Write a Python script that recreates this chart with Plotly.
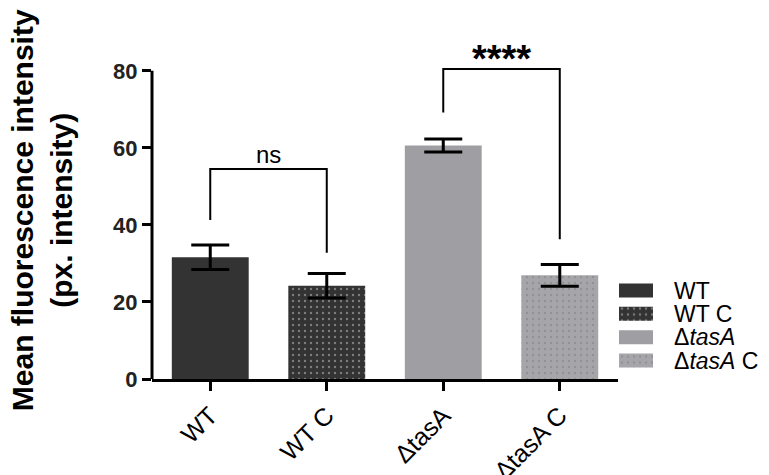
import plotly.graph_objects as go

# ---- data ----
categories = ["WT", "WT C", "ΔtasA", "ΔtasA C"]
legend_labels = ["WT", "WT C", "Δ<i>tasA</i>", "Δ<i>tasA</i> C"]
means = [31.6, 24.2, 60.6, 26.9]
sem = [3.2, 3.2, 1.7, 2.8]
bar_colors = ["#333333", "#333333", "#9f9fa3", "#a6a6aa"]
dot_colors = [None, "#c8c8c8", None, "#7c7c80"]

# significance brackets: (left idx, right idx, bracket height, left leg end, right leg end, label)
brackets = [
    (0, 1, 54.5, 41.3, 32.8, "ns"),
    (2, 3, 80.5, 69.2, 36.3, "****"),
]

y_ticks = [0, 20, 40, 60, 80]
y_title = "Mean fluorescence intensity<br>(px. intensity)"

FONT = "Liberation Sans, Arial, sans-serif"

fig = go.Figure()

def marker_for(i):
    m = dict(color=bar_colors[i], line=dict(width=0))
    if dot_colors[i]:
        m["pattern"] = dict(shape=".", fgcolor=dot_colors[i], bgcolor=bar_colors[i],
                            size=6, solidity=0.12, fillmode="overlay")
    return m

# main bars
for i, cat in enumerate(categories):
    fig.add_trace(go.Bar(
        x=[cat], y=[means[i]], width=0.66,
        marker=marker_for(i),
        error_y=dict(type="data", array=[sem[i]], color="black", thickness=3, width=19),
        showlegend=False, xaxis="x", yaxis="y",
    ))

# brackets
for a, b, top, la, lb, label in brackets:
    fig.add_trace(go.Scatter(
        x=[categories[a], categories[a], categories[b], categories[b]],
        y=[la, top, top, lb], mode="lines",
        line=dict(color="black", width=2), showlegend=False, hoverinfo="skip",
        xaxis="x", yaxis="y",
    ))

# custom legend swatches (on a secondary hidden axis pair)
for i, lab in enumerate(legend_labels):
    fig.add_trace(go.Bar(
        x=[1], y=[lab], orientation="h", width=0.6,
        marker=marker_for(i), showlegend=False, hoverinfo="skip",
        xaxis="x2", yaxis="y2",
    ))

annotations = []
for a, b, top, la, lb, label in brackets:
    if label == "ns":
        annotations.append(dict(x=(a + b) / 2, y=top, xref="x", yref="y", text=label,
                                showarrow=False, yanchor="bottom", yshift=-1,
                                font=dict(family=FONT, size=24, color="black")))
    else:
        annotations.append(dict(x=(a + b) / 2, y=top, xref="x", yref="y", text=label,
                                showarrow=False, yanchor="bottom", yshift=-13,
                                font=dict(family=FONT, size=38, color="black", weight="bold")))

for lab in legend_labels:
    annotations.append(dict(x=0.8428, y=lab, xref="paper", yref="y2", text=lab,
                            showarrow=False, xanchor="left", yanchor="middle",
                            font=dict(family=FONT, size=23, color="black")))

annotations.append(dict(x=-0.178, y=0.4985, xref="paper", yref="paper", text=y_title,
                        showarrow=False, textangle=-90, xanchor="center", yanchor="middle",
                        font=dict(family=FONT, size=30, color="black", weight="bold")))

fig.update_layout(
    width=769, height=475,
    margin=dict(l=152, r=0, t=40, b=96),
    paper_bgcolor="white", plot_bgcolor="white",
    bargap=0.34,
    font=dict(family=FONT, color="black"),
    xaxis=dict(domain=[0, 0.7553], type="category", categoryorder="array",
               categoryarray=categories, range=[-0.5, 3.5], automargin=False,
               showline=True, linecolor="black", linewidth=3,
               ticks="outside", ticklen=9, tickwidth=3, tickcolor="black",
               tickangle=-45, tickfont=dict(family=FONT, size=25, color="black"),
               showgrid=False, zeroline=False, fixedrange=True),
    yaxis=dict(range=[0, 88], tickvals=y_ticks, ticktext=[str(t) for t in y_ticks],
               automargin=False,
               showline=False, ticks="outside", ticklen=9, tickwidth=3, tickcolor="black",
               tickfont=dict(family=FONT, size=22, color="#222222", weight="bold"),
               showgrid=False, zeroline=False, fixedrange=True),
    xaxis2=dict(domain=[0.7569, 0.812], range=[0, 1], anchor="y2", visible=False,
                fixedrange=True),
    yaxis2=dict(domain=[0.0103, 0.3053], type="category", categoryorder="array",
                categoryarray=legend_labels, autorange="reversed", anchor="x2",
                visible=False, fixedrange=True),
    shapes=[dict(type="line", xref="paper", yref="y", x0=0, x1=0,
                 y0=y_ticks[0], y1=y_ticks[-1], line=dict(color="black", width=3))],
    annotations=annotations,
    showlegend=False,
)

fig.write_html("out.html")
